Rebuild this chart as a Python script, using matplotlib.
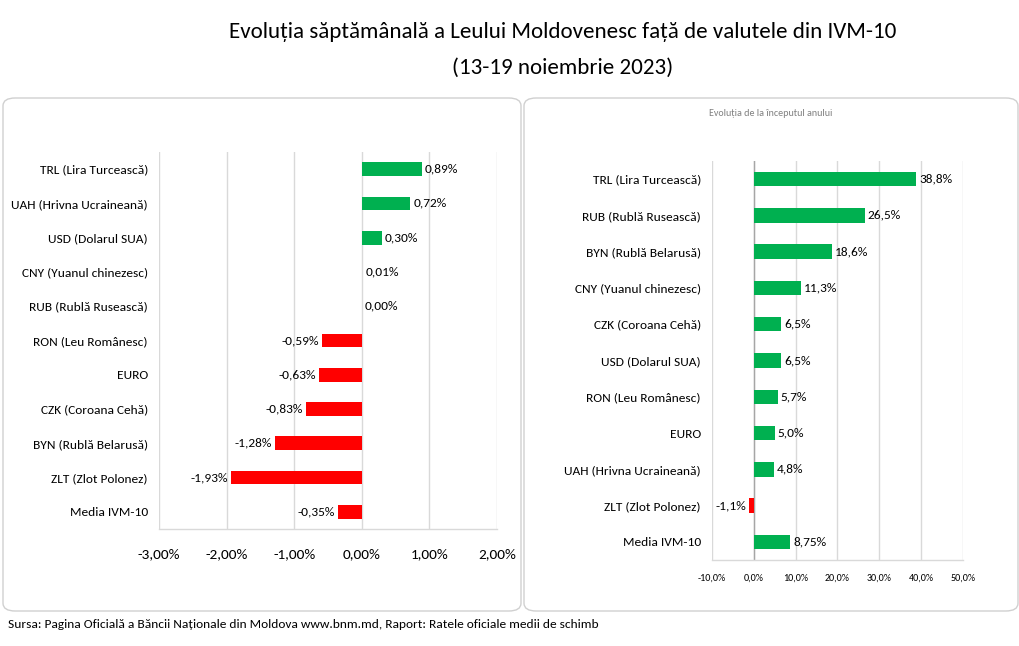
import matplotlib
matplotlib.use("Agg")
import matplotlib.pyplot as plt
from matplotlib.patches import FancyBboxPatch
from matplotlib.ticker import FuncFormatter
import matplotlib.transforms as mtransforms

plt.rcParams['font.family'] = ['Carlito', 'DejaVu Sans']

title_lines = ["Evoluția săptămânală a Leului Moldovenesc față de valutele din IVM-10",
               "(13-19 noiembrie 2023)"]
source_text = "Sursa: Pagina Oficială a Băncii Naționale din Moldova www.bnm.md, Raport: Ratele oficiale medii de schimb"
right_subtitle = "Evoluția de la începutul anului"

left_labels = ["TRL (Lira Turcească)", "UAH (Hrivna Ucraineană)", "USD (Dolarul SUA)",
               "CNY (Yuanul chinezesc)", "RUB (Rublă Rusească)", "RON (Leu Românesc)",
               "EURO", "CZK (Coroana Cehă)", "BYN (Rublă Belarusă)", "ZLT (Zlot Polonez)",
               "Media IVM-10"]
left_values = [0.89, 0.72, 0.30, 0.01, 0.00, -0.59, -0.63, -0.83, -1.28, -1.93, -0.35]
left_value_text = ["0,89%", "0,72%", "0,30%", "0,01%", "0,00%", "-0,59%", "-0,63%",
                   "-0,83%", "-1,28%", "-1,93%", "-0,35%"]
left_ticks = [-3, -2, -1, 0, 1, 2]

right_labels = ["TRL (Lira Turcească)", "RUB (Rublă Rusească)", "BYN (Rublă Belarusă)",
                "CNY (Yuanul chinezesc)", "CZK (Coroana Cehă)", "USD (Dolarul SUA)",
                "RON (Leu Românesc)", "EURO", "UAH (Hrivna Ucraineană)",
                "ZLT (Zlot Polonez)", "Media IVM-10"]
right_values = [38.8, 26.5, 18.6, 11.3, 6.5, 6.5, 5.7, 5.0, 4.8, -1.1, 8.75]
right_value_text = ["38,8%", "26,5%", "18,6%", "11,3%", "6,5%", "6,5%", "5,7%",
                    "5,0%", "4,8%", "-1,1%", "8,75%"]
right_ticks = [-10, 0, 10, 20, 30, 40, 50]

GREEN = "#00B050"
RED = "#FF0000"
W, H = 1020, 646

fig = plt.figure(figsize=(W / 100, H / 100), dpi=100)
fig.patch.set_facecolor("white")


def fx(px):
    return px / W


def fy(py):
    return 1 - py / H


# panel boxes
for (x0, y0, x1, y1) in [(3, 98, 521, 611), (524, 98, 1018, 611)]:
    box = FancyBboxPatch((fx(x0), fy(y1)), fx(x1 - x0), (y1 - y0) / H,
                         boxstyle="round,pad=0,rounding_size=0.012",
                         transform=fig.transFigure, facecolor="none",
                         edgecolor="#d0d0d0", linewidth=1.0, zorder=-5)
    fig.patches.append(box)

# titles
fig.text(fx(563), fy(32), title_lines[0], ha="center", va="center", fontsize=16.6, color="black")
fig.text(fx(563), fy(68), title_lines[1], ha="center", va="center", fontsize=16.6, color="black")
fig.text(fx(8), fy(625), source_text, ha="left", va="center", fontsize=9.6, color="black")
fig.text(fx(771), fy(113), right_subtitle, ha="center", va="center", fontsize=7.2, color="#808080")


def draw_panel(rect_px, labels, values, vtexts, ticks, xlim, fmt, label_fs, tick_fs, tick_pad, zero_dark):
    x0, y0, x1, y1 = rect_px
    ax = fig.add_axes([fx(x0), fy(y1), fx(x1 - x0), (y1 - y0) / H])
    ax.set_facecolor("none")
    n = len(labels)
    ypos = list(range(n))
    colors = [GREEN if v >= 0 else RED for v in values]
    ax.barh(ypos, values, height=0.4, color=colors, zorder=3)
    ax.set_ylim(n - 0.5, -0.5)
    ax.set_xlim(*xlim)
    ax.set_xticks(ticks)
    ax.xaxis.set_major_formatter(FuncFormatter(fmt))
    ax.set_yticks(ypos)
    ax.set_yticklabels(labels, fontsize=label_fs)
    ax.tick_params(axis="y", length=0, pad=8)
    ax.tick_params(axis="x", length=0, pad=tick_pad, labelsize=tick_fs)
    ax.grid(axis="x", color="#d9d9d9", linewidth=1.0, zorder=0)
    for s in ["top", "right", "left"]:
        ax.spines[s].set_visible(False)
    ax.spines["bottom"].set_color("#d9d9d9")
    ax.spines["bottom"].set_linewidth(1.0)
    if zero_dark:
        ax.axvline(0, color="#a6a6a6", linewidth=1.0, zorder=2)
    for y, v, t in zip(ypos, values, vtexts):
        off = 3 if v >= 0 else -3
        trans = mtransforms.offset_copy(ax.transData, fig=fig, x=off, y=0, units="dots")
        ax.text(v, y, t, ha="left" if v >= 0 else "right", va="center",
                fontsize=label_fs, color="black", transform=trans, zorder=4)
    return ax


draw_panel((159, 152, 497, 529), left_labels, left_values, left_value_text, left_ticks,
           (-3, 2), lambda v, p: f"{v:.2f}%".replace(".", ","), 9.6, 11, 14, False)
draw_panel((712, 161, 963, 560), right_labels, right_values, right_value_text, right_ticks,
           (-10, 50), lambda v, p: f"{v:.1f}%".replace(".", ","), 9.6, 7.2, 10, True)

fig.savefig("out.png", dpi=100, facecolor="white")
